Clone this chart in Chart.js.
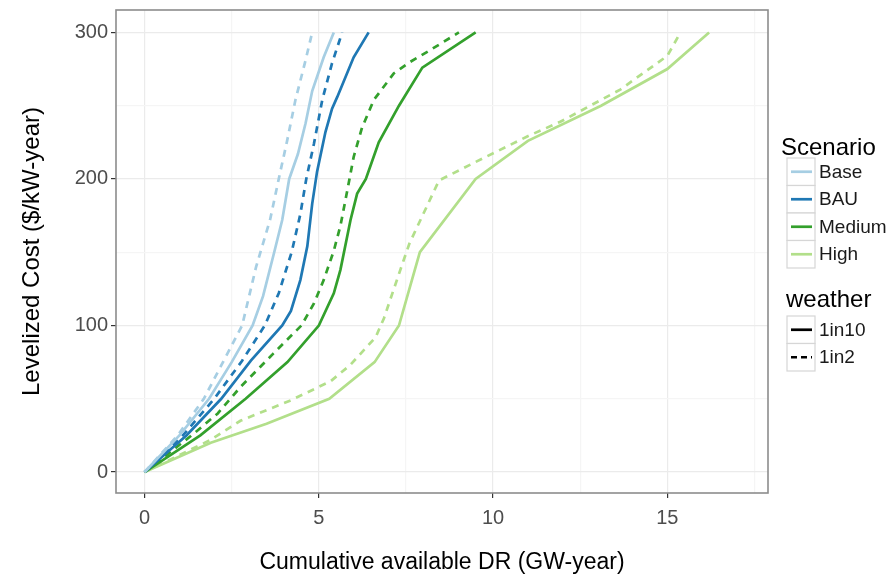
<!DOCTYPE html>
<html>
<head>
<meta charset="utf-8">
<script src="https://cdn.jsdelivr.net/npm/chart.js@4"></script>
<style>
  html, body { margin: 0; padding: 0; background: #fff; }
  #wrap { width: 896px; height: 576px; }
</style>
</head>
<body>
<div id="wrap"><canvas id="cost"></canvas></div>
<script>
// legend entries
const scenarios = ["Base", "BAU", "Medium", "High"];
const weathers = ["1in10", "1in2"];
const xTicks = [0, 5, 10, 15];
const yTicks = [0, 100, 200, 300];

// cumulative DR (GW-year) and levelized cost ($/kW-year)
const baseX10 = [0, 1.0, 1.85, 2.5, 3.1, 3.4, 3.72, 3.95, 4.15, 4.4, 4.62, 4.81, 5.14, 5.43];
const baseY10 = [0, 25, 50, 75, 100, 120, 150, 172, 200, 217, 238, 260, 283, 300];
const baseX2 = [0, 0.95, 1.7, 2.25, 2.8, 3.2, 3.6, 3.85, 4.09, 4.33, 4.62, 4.81];
const baseY2 = [0, 25, 50, 75, 100, 140, 172, 200, 226, 254, 281, 300];

const bauX10 = [0, 1.2, 2.2, 3.05, 3.95, 4.2, 4.47, 4.67, 4.81, 4.95, 5.19, 5.38, 5.53, 6.0, 6.43];
const bauY10 = [0, 25, 50, 76, 100, 110, 131, 154, 183, 205, 232, 248, 256, 283, 300];
const bauX2 = [0, 1.1, 2.0, 2.8, 3.45, 3.85, 4.22, 4.47, 4.64, 4.86, 5.1, 5.38, 5.67];
const bauY2 = [0, 25, 50, 76, 100, 122, 150, 176, 200, 224, 254, 279, 300];

const medX10 = [0, 1.6, 2.9, 4.1, 5.0, 5.43, 5.62, 5.91, 6.1, 6.35, 6.72, 7.3, 7.97, 9.5];
const medY10 = [0, 25, 50, 75, 100, 122, 138, 172, 190, 200, 225, 250, 276, 300];
const medX2 = [0, 1.35, 2.1, 2.75, 3.7, 4.5, 4.86, 5.14, 5.43, 5.62, 5.8, 6.0, 6.24, 6.58, 7.15, 7.63, 8.2, 9.02];
const medY2 = [0, 25, 40, 58, 81, 100, 115, 131, 151, 168, 190, 215, 235, 254, 272, 280, 288, 300];

const highX10 = [0, 1.9, 3.5, 5.3, 6.6, 7.3, 7.9, 9.5, 11.0, 13.1, 15.0, 16.2];
const highY10 = [0, 20, 33, 50, 75, 100, 150, 200, 226, 250, 275, 300];
const highX2 = [0, 1.9, 2.75, 4.2, 5.34, 5.9, 6.63, 6.87, 7.34, 7.6, 8.45, 9.45, 10.98, 11.93, 13.65, 15.0, 15.38];
const highY2 = [0, 22, 35, 49, 62, 73, 92, 105, 138, 156, 199, 211, 229, 239, 261, 284, 300];

const colors = ["#a6cee3", "#1f78b4", "#33a02c", "#b2df8a"];
const dashes = [[], [7, 6]];

const seriesX = [[baseX10, baseX2], [bauX10, bauX2], [medX10, medX2], [highX10, highX2]];
const seriesY = [[baseY10, baseY2], [bauY10, bauY2], [medY10, medY2], [highY10, highY2]];

const datasets = [];
scenarios.forEach((s, i) => {
  weathers.forEach((w, j) => {
    datasets.push({
      label: s + " " + w,
      data: seriesX[i][j].map((x, k) => ({ x: x, y: seriesY[i][j][k] })),
      borderColor: colors[i],
      borderWidth: 2.7,
      borderDash: dashes[j],
      pointRadius: 0,
      tension: 0,
      fill: false
    });
  });
});

const FONT = "'Liberation Sans', Arial, sans-serif";

// panel border + ggplot-style legend
const panelAndLegend = {
  id: "panelAndLegend",
  afterDraw(chart) {
    const ctx = chart.ctx;
    const a = chart.chartArea;
    ctx.save();
    ctx.strokeStyle = "#8c8c8c";
    ctx.lineWidth = 1.6;
    ctx.strokeRect(a.left, a.top, a.right - a.left, a.bottom - a.top);

    const kx = 787, kw = 28, kh = 27.5;

    function key(y, color, dash) {
      ctx.fillStyle = "#ffffff";
      ctx.fillRect(kx, y, kw, kh);
      ctx.strokeStyle = "#d6d6d6";
      ctx.lineWidth = 1.2;
      ctx.strokeRect(kx, y, kw, kh);
      ctx.strokeStyle = color;
      ctx.lineWidth = 2.7;
      ctx.setLineDash(dash);
      ctx.beginPath();
      ctx.moveTo(kx + 4, y + kh / 2);
      ctx.lineTo(kx + kw - 3, y + kh / 2);
      ctx.stroke();
      ctx.setLineDash([]);
    }

    ctx.textBaseline = "middle";
    ctx.textAlign = "left";
    ctx.fillStyle = "#000";
    ctx.font = "24px " + FONT;
    ctx.fillText("Scenario", 781, 148);
    ctx.font = "19px " + FONT;
    scenarios.forEach((s, i) => {
      const y = 158 + i * kh;
      key(y, colors[i], []);
      ctx.fillStyle = "#1a1a1a";
      ctx.fillText(s, 819, y + kh / 2 + 1);
    });

    ctx.fillStyle = "#000";
    ctx.font = "24px " + FONT;
    ctx.fillText("weather", 786, 300);
    ctx.font = "19px " + FONT;
    weathers.forEach((w, j) => {
      const y = 316 + j * kh;
      key(y, "#000", j ? [6, 4] : []);
      ctx.fillStyle = "#1a1a1a";
      ctx.fillText(w, 819, y + kh / 2 + 1);
    });
    ctx.restore();
  }
};

const isMajor = (v, arr) => arr.indexOf(v) !== -1;

new Chart(document.getElementById("cost"), {
  type: "line",
  data: { datasets: datasets },
  options: {
    responsive: true,
    maintainAspectRatio: false,
    animation: false,
    layout: { padding: { left: 0, right: 128, top: 10, bottom: 0 } },
    plugins: { legend: { display: false }, tooltip: { enabled: false } },
    scales: {
      x: {
        type: "linear",
        min: -0.82,
        max: 17.89,
        afterBuildTicks: s => { s.ticks = [0, 2.5, 5, 7.5, 10, 12.5, 15, 17.5].map(v => ({ value: v })); },
        afterFit: s => { s.height = 83; s.paddingLeft = 0; s.paddingRight = 0; },
        border: { display: false },
        grid: {
          color: c => isMajor(c.tick.value, xTicks) ? "#ebebeb" : "#f5f5f5",
          lineWidth: 1.2,
          tickLength: 5,
          tickColor: c => isMajor(c.tick.value, xTicks) ? "#333333" : "rgba(0,0,0,0)"
        },
        ticks: {
          autoSkip: false,
          maxRotation: 0,
          padding: 8,
          color: "#4d4d4d",
          font: { family: FONT, size: 20 },
          callback: v => isMajor(v, xTicks) ? String(v) : ""
        },
        title: {
          display: true,
          text: "Cumulative available DR (GW-year)",
          color: "#000",
          font: { family: FONT, size: 23 },
          padding: { top: 0, bottom: 0 }
        }
      },
      y: {
        type: "linear",
        min: -14.3,
        max: 315.3,
        afterBuildTicks: s => { s.ticks = [0, 50, 100, 150, 200, 250, 300].map(v => ({ value: v })); },
        afterFit: s => { s.width = 116; s.paddingTop = 0; s.paddingBottom = 0; },
        border: { display: false },
        grid: {
          color: c => isMajor(c.tick.value, yTicks) ? "#ebebeb" : "#f5f5f5",
          lineWidth: 1.2,
          tickLength: 5,
          tickColor: c => isMajor(c.tick.value, yTicks) ? "#333333" : "rgba(0,0,0,0)"
        },
        ticks: {
          autoSkip: false,
          padding: 3,
          color: "#4d4d4d",
          font: { family: FONT, size: 20 },
          callback: v => isMajor(v, yTicks) ? String(v) : ""
        },
        title: {
          display: true,
          text: "Levelized Cost ($/kW-year)",
          color: "#000",
          font: { family: FONT, size: 24 },
          padding: { top: 18, bottom: 0 }
        }
      }
    }
  },
  plugins: [panelAndLegend]
});
</script>
</body>
</html>
